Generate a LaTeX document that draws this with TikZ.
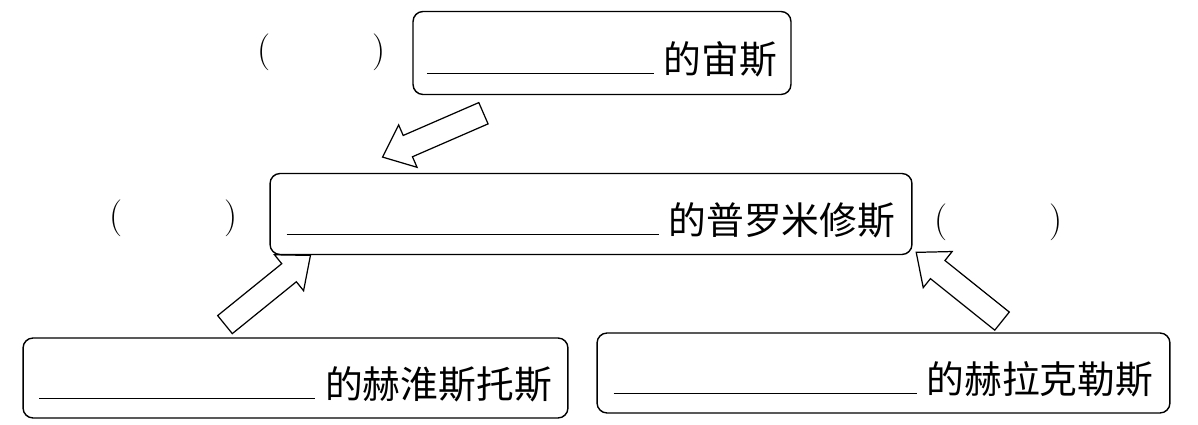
\documentclass[tikz,border=0pt]{standalone}
\usepackage{fontspec}
\newfontfamily\cjk{Noto Sans CJK SC}
\usepackage{tikz}
\usetikzlibrary{shapes,positioning,calc}

\newcommand{\blankline}[1]{\rule{#1}{0.7pt}\hspace{0.2cm}}

\begin{document}
\begin{tikzpicture}[
    x=0.02cm, y=-0.02cm,
    box/.style={rectangle, draw, line width=0.8pt, rounded corners=0.2cm, minimum height=1.62cm, inner sep=0pt, text height=0.9cm, text depth=0.06cm, align=center, font=\cjk\fontsize{21.5}{24}\selectfont},
    paren/.style={font=\fontsize{21}{24}\selectfont, inner sep=0pt},
    bigarrow/.style={single arrow, draw, line width=0.7pt, inner xsep=0pt, inner ysep=0.22cm, minimum height=2.2cm, single arrow head extend=0.23cm, single arrow tip angle=80, anchor=tail}
]
    \useasboundingbox (0,0) rectangle (1198,425);

    % Top
    \node[box, minimum width=7.56cm, minimum height=1.66cm] (zeus) at (602,53) {\blankline{4.54cm}的宙斯};
    \node[paren] (zeusparen) at (321.5,52) {(\hspace{2.05cm})};

    % Middle
    \node[box, minimum width=12.84cm] (prometheus) at (591,214) {\blankline{7.44cm}的普罗米修斯};
    \node[paren] (promparenleft) at (173.5,218) {(\hspace{2.05cm})};
    \node[paren] (promparenright) at (998.5,222) {(\hspace{2.05cm})};

    % Bottom
    \node[box, minimum width=10.9cm, minimum height=1.6cm] (hephaestus) at (295.5,378) {\blankline{5.52cm}的赫淮斯托斯};
    \node[box, minimum width=11.46cm, minimum height=1.6cm] (heracles) at (883.5,373) {\blankline{6.06cm}的赫拉克勒斯};

    % Arrows
    \node[bigarrow, rotate=203.5] (arrzeus) at (484,113) {};
    \node[bigarrow, rotate=39] (arrheph) at (224.5,325) {};
    \node[bigarrow, rotate=141.3] (arrhera) at (1002.5,321.5) {};
\end{tikzpicture}
\end{document}
